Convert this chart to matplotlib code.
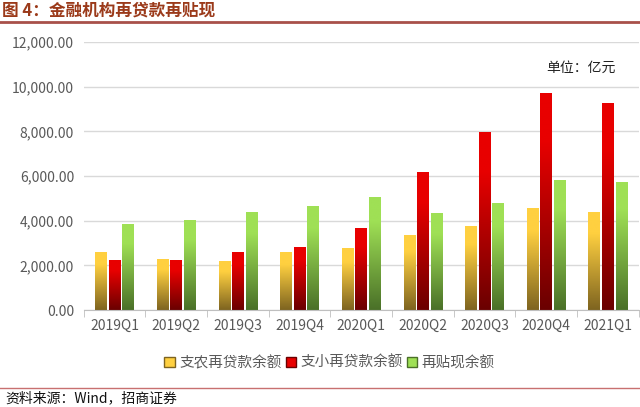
import numpy as np
import matplotlib
matplotlib.use("Agg")
import matplotlib.pyplot as plt
from matplotlib.colors import LinearSegmentedColormap
from matplotlib.lines import Line2D
from matplotlib.patches import Patch

plt.rcParams['font.family'] = ['Noto Sans CJK SC', 'DejaVu Sans']

categories = ["2019Q1", "2019Q2", "2019Q3", "2019Q4", "2020Q1",
              "2020Q2", "2020Q3", "2020Q4", "2021Q1"]
series_names = ["支农再贷款余额", "支小再贷款余额", "再贴现余额"]
agri = [2600, 2300, 2200, 2600, 2760, 3380, 3780, 4560, 4400]
small = [2250, 2250, 2600, 2820, 3660, 6200, 7980, 9730, 9280]
rediscount = [3840, 4050, 4400, 4680, 5070, 4340, 4800, 5800, 5750]
yticks = [0, 2000, 4000, 6000, 8000, 10000, 12000]

grads = [("#FFD040", "#7E6420"), ("#E80000", "#6A0000"), ("#9FE055", "#4A7028")]

fig = plt.figure(figsize=(6.4, 4.07), dpi=100)
ax = fig.add_axes([0.131, 0.238, 0.867, 0.659])

x = np.arange(len(categories))
w = 0.19
offs = [-0.22, 0.0, 0.22]
grad = np.concatenate([np.linspace(0, 1, 200), np.ones(56)]).reshape(-1, 1)
for vals, off, (ctop, cbot) in zip([agri, small, rediscount], offs, grads):
    cmap = LinearSegmentedColormap.from_list("g", [cbot, ctop])
    bars = ax.bar(x + off, vals, width=w, color="none", edgecolor="none", zorder=2)
    for b in bars:
        bx, by = b.get_x(), b.get_y()
        bw, bh = b.get_width(), b.get_height()
        im = ax.imshow(grad, cmap=cmap, origin="lower", aspect="auto",
                       extent=[bx, bx + bw, by, by + bh], zorder=2)
        im.set_clip_path(b)

ax.set_xlim(-0.5, len(categories) - 0.5)
ax.set_ylim(0, 12000)
ax.set_yticks(yticks)
ax.set_yticklabels([f"{v:,.2f}" for v in yticks], color="#595959", fontsize=10)
ax.set_xticks(x)
ax.set_xticklabels(categories, color="#595959", fontsize=10)
ax.set_xticks(np.arange(-0.5, len(categories), 1), minor=True)
ax.tick_params(axis="x", which="major", length=0, pad=6)
ax.tick_params(axis="x", which="minor", length=5, color="#BFBFBF")
ax.tick_params(axis="y", length=0, pad=7)
ax.grid(axis="y", color="#D9D9D9", linewidth=1, zorder=0)
ax.set_axisbelow(True)
for s in ["top", "right", "left"]:
    ax.spines[s].set_visible(False)
ax.spines["bottom"].set_color("#BFBFBF")

ax.text(0.958, 0.905, "单位：亿元", transform=ax.transAxes, ha="right", va="center",
        fontsize=10, color="#222222")

handles = [Patch(facecolor=c[0], edgecolor=c[1]) for c in grads]
fig.legend(handles, series_names, loc="center", bbox_to_anchor=(0.515, 0.108), ncol=3,
           frameon=False, fontsize=10.5, handlelength=0.7, handleheight=0.7,
           handletextpad=0.3, columnspacing=0.3, labelcolor="#595959")

fig.text(0.003, 0.975, "图 4：金融机构再贷款再贴现", ha="left", va="center",
         fontsize=12, fontweight="bold", color="#9B3A1A")
fig.add_artist(Line2D([0, 1], [0.946, 0.946], transform=fig.transFigure,
                      color="#A8504A", linewidth=2))
fig.add_artist(Line2D([0, 1], [0.047, 0.047], transform=fig.transFigure,
                      color="#C87070", linewidth=1))
fig.text(0.008, 0.022, "资料来源：Wind，招商证券", ha="left", va="center",
         fontsize=10, color="#111111")

fig.savefig("out.png", dpi=100)
